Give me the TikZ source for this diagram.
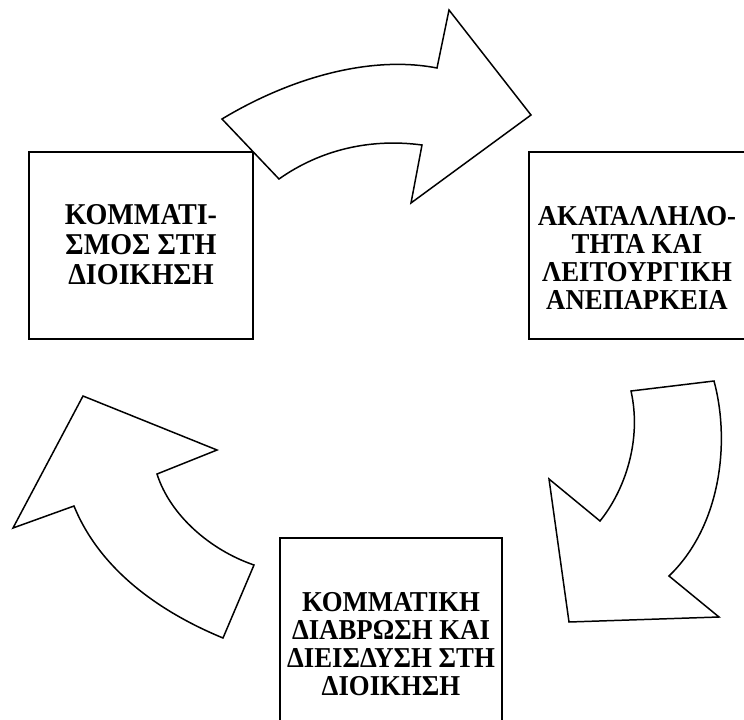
\documentclass[tikz,border=0pt]{standalone}
\usepackage{fontspec}
\setmainfont{Liberation Serif}
\newfontfamily\boxfont[FakeStretch=0.93]{Liberation Serif}
\usepackage{tikz}
\usetikzlibrary{positioning}

\begin{document}
\begin{tikzpicture}[
  x=0.02cm, y=-0.02cm,
  every node/.style={font=\boxfont\bfseries\fontsize{16.4}{15.9}\selectfont},
  box/.style={draw, line width=1.1pt, fill=white, inner sep=0pt, minimum height=3.74cm},
  txt/.style={inner sep=0pt, align=center},
  bigarrow/.style={draw, line width=0.85pt, fill=white, line join=miter},
]
\useasboundingbox (0,0) rectangle (744,720);
\clip (0,0) rectangle (744,720);

%% Boxes
\node[box, minimum width=4.48cm] (party) at (141,245.5) {};
\node[txt, below=1.06cm of party.north,
      font=\boxfont\bfseries\fontsize{17.2}{17}\selectfont] (partytxt)
  {ΚΟΜΜΑΤΙ-\\ΣΜΟΣ ΣΤΗ\\ΔΙΟΙΚΗΣΗ};

\node[box, minimum width=4.44cm] (unfit) at (640,245.5) {};
\node[txt, below=1.1cm of unfit.north, xshift=-0.06cm] (unfittxt)
  {ΑΚΑΤΑΛΛΗΛΟ-\\ΤΗΤΑ ΚΑΙ\\ΛΕΙΤΟΥΡΓΙΚΗ\\ΑΝΕΠΑΡΚΕΙΑ};

\node[box, minimum width=4.44cm] (erosion) at (391,631.5) {};
\node[txt, below=1.1cm of erosion.north] (erosiontxt)
  {ΚΟΜΜΑΤΙΚΗ\\ΔΙΑΒΡΩΣΗ ΚΑΙ\\ΔΙΕΙΣΔΥΣΗ ΣΤΗ\\ΔΙΟΙΚΗΣΗ};

%% Arrows
% party -> unfit
\draw[bigarrow] (222,119) .. controls (290,78) and (370,55) .. (437,68)
  -- (449,10) -- (531,115) -- (411,203) -- (422,145)
  .. controls (370,138) and (320,150) .. (279,179) -- cycle;

% unfit -> erosion
\draw[bigarrow] (631,391) -- (714,381)
  .. controls (730,440) and (722,525) .. (669,576)
  -- (719,617) -- (569,622) -- (549,479) -- (600,521)
  .. controls (625,490) and (642,440) .. (631,391) -- cycle;

% erosion -> party
\draw[bigarrow] (254,565) -- (223,638)
  .. controls (160,612) and (100,570) .. (74,506)
  -- (13,528) -- (83,396) -- (217,450) -- (157,474)
  .. controls (170,515) and (210,550) .. (254,565) -- cycle;

\end{tikzpicture}
\end{document}
